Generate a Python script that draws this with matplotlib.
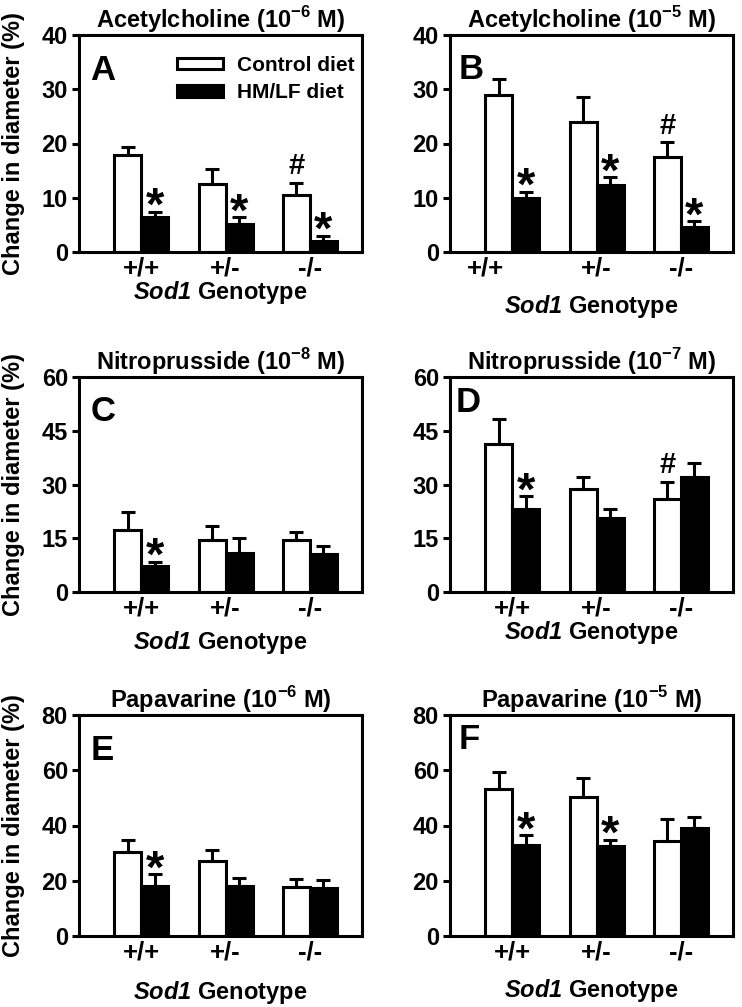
import matplotlib
matplotlib.use("Agg")
import matplotlib.pyplot as plt
import numpy as np
from matplotlib.patches import Patch

plt.rcParams['font.family'] = ['Liberation Sans', 'DejaVu Sans']
plt.rcParams['font.weight'] = 'bold'
plt.rcParams['mathtext.fontset'] = 'custom'
plt.rcParams['mathtext.rm'] = 'Liberation Sans:bold'
plt.rcParams['mathtext.bf'] = 'Liberation Sans:bold'
plt.rcParams['mathtext.sf'] = 'Liberation Sans:bold:italic'

genotypes = ['+/+', '+/-', '-/-']

# means and SEM (upper error only)
a_ctrl = [17.8, 12.6, 10.5]
a_ctrl_err = [1.5, 2.7, 2.3]
a_hm = [6.4, 5.2, 2.1]
a_hm_err = [1.0, 1.2, 0.9]

b_ctrl = [29.0, 23.9, 17.6]
b_ctrl_err = [2.9, 4.6, 2.6]
b_hm = [9.9, 12.4, 4.6]
b_hm_err = [1.2, 1.4, 1.1]

c_ctrl = [17.4, 14.6, 14.4]
c_ctrl_err = [4.9, 3.7, 2.4]
c_hm = [7.3, 10.9, 10.5]
c_hm_err = [1.2, 4.1, 2.4]

d_ctrl = [41.4, 28.7, 25.9]
d_ctrl_err = [7.0, 3.3, 4.9]
d_hm = [23.3, 20.7, 32.0]
d_hm_err = [3.4, 2.5, 4.0]

e_ctrl = [30.5, 27.2, 17.8]
e_ctrl_err = [4.4, 4.1, 3.0]
e_hm = [18.0, 18.0, 17.4]
e_hm_err = [4.4, 3.0, 2.8]

f_ctrl = [53.3, 50.2, 34.4]
f_ctrl_err = [6.0, 7.1, 7.9]
f_hm = [33.1, 32.4, 39.2]
f_hm_err = [3.3, 2.4, 3.8]

titles = [r'Acetylcholine (10$^{-6}$ M)', r'Acetylcholine (10$^{-5}$ M)',
          r'Nitroprusside (10$^{-8}$ M)', r'Nitroprusside (10$^{-7}$ M)',
          r'Papavarine (10$^{-6}$ M)', r'Papavarine (10$^{-5}$ M)']
letters = ['A', 'B', 'C', 'D', 'E', 'F']
ymax = [40, 40, 60, 60, 80, 80]
ystep = [10, 10, 15, 15, 20, 20]

# significance marks: group indices
star_groups = [[0, 1, 2], [0, 1, 2], [0], [0], [0], [0, 1]]
hash_groups = [[2], [2], [], [2], [], []]

panels = [
    (a_ctrl, a_ctrl_err, a_hm, a_hm_err),
    (b_ctrl, b_ctrl_err, b_hm, b_hm_err),
    (c_ctrl, c_ctrl_err, c_hm, c_hm_err),
    (d_ctrl, d_ctrl_err, d_hm, d_hm_err),
    (e_ctrl, e_ctrl_err, e_hm, e_hm_err),
    (f_ctrl, f_ctrl_err, f_hm, f_hm_err),
]

W, H = 742, 1007
fig = plt.figure(figsize=(W / 100, H / 100), dpi=100)

col_left = [79, 450]
ax_w = 283
rows = [(35, 252), (377, 592), (715, 936)]
letter_pos = [(0.04, 0.835), (0.03, 0.84), (0.04, 0.84), (0.02, 0.88), (0.04, 0.84), (0.03, 0.89)]
xlabel_off = [41, 54, 51, 40, 57, 54]

lw = 2.2
bw = 0.32
x = np.arange(3)
star_fs = 34
star_dy = 4 / 1.389 - 0.26 * star_fs

for i, (ctrl, ctrl_err, hm, hm_err) in enumerate(panels):
    r, c = divmod(i, 2)
    top, bot = rows[r]
    ax = fig.add_axes([col_left[c] / W, 1 - bot / H, ax_w / W, (bot - top) / H])

    ax.bar(x - bw, ctrl, bw, align='edge', color='white', edgecolor='black', linewidth=lw, zorder=2)
    ax.bar(x, hm, bw, align='edge', color='black', edgecolor='black', linewidth=lw, zorder=2)
    ax.errorbar(x - bw / 2, ctrl, yerr=[np.zeros(3), ctrl_err], fmt='none', ecolor='black',
                elinewidth=lw, capsize=5, capthick=lw, zorder=3)
    ax.errorbar(x + bw / 2, hm, yerr=[np.zeros(3), hm_err], fmt='none', ecolor='black',
                elinewidth=lw, capsize=5, capthick=lw, zorder=3)

    for g in star_groups[i]:
        ax.annotate('*', xy=(x[g] + bw / 2, hm[g] + hm_err[g]), xytext=(0, star_dy),
                    textcoords='offset points', ha='center', va='baseline',
                    fontsize=star_fs, fontweight='bold')
    for g in hash_groups[i]:
        ax.annotate('#', xy=(x[g] - bw / 2, ctrl[g] + ctrl_err[g]), xytext=(0, 6),
                    textcoords='offset points', ha='center', va='baseline',
                    fontsize=21, fontweight='bold')

    ax.set_xlim(-0.74, 2.62)
    ax.set_ylim(0, ymax[i])
    ax.set_yticks(np.arange(0, ymax[i] + 1, ystep[i]))
    ticks = list(x.astype(float))
    if i == 1:
        ticks[0] = -0.32
    ax.set_xticks(ticks)
    ax.set_xticklabels(genotypes, fontsize=18.5, fontweight='bold')
    ax.tick_params(axis='x', length=0, pad=3)
    ax.tick_params(axis='y', direction='out', length=5, width=lw, pad=3, labelsize=17, right=False)
    for sp in ax.spines.values():
        sp.set_linewidth(lw)

    ax.set_title(titles[i], fontsize=17, fontweight='bold', pad=3)
    ax.text(letter_pos[i][0], letter_pos[i][1], letters[i], transform=ax.transAxes,
            fontsize=25, fontweight='bold', ha='left', va='center')

    ax.set_xlabel(r'$\mathsf{Sod1}$ Genotype', fontsize=17, fontweight='bold')
    ax.xaxis.label.set_va('center')
    ax.xaxis.set_label_coords(0.5, -xlabel_off[i] / (bot - top))
    if c == 0:
        ax.set_ylabel('Change in diameter (%)', fontsize=17, fontweight='bold')
        ax.yaxis.label.set_va('center')
        ax.yaxis.set_label_coords(-66 / ax_w, 0.5)

    if i == 0:
        handles = [Patch(facecolor='white', edgecolor='black', linewidth=lw),
                   Patch(facecolor='black', edgecolor='black', linewidth=lw)]
        ax.legend(handles, ['Control diet', 'HM/LF diet'], loc='center left',
                  bbox_to_anchor=(0.346, 0.797), frameon=False, fontsize=15,
                  handlelength=2.2, handleheight=0.5, handletextpad=0.7,
                  labelspacing=0.4, borderpad=0, borderaxespad=0)

fig.savefig('out.png', dpi=100)
